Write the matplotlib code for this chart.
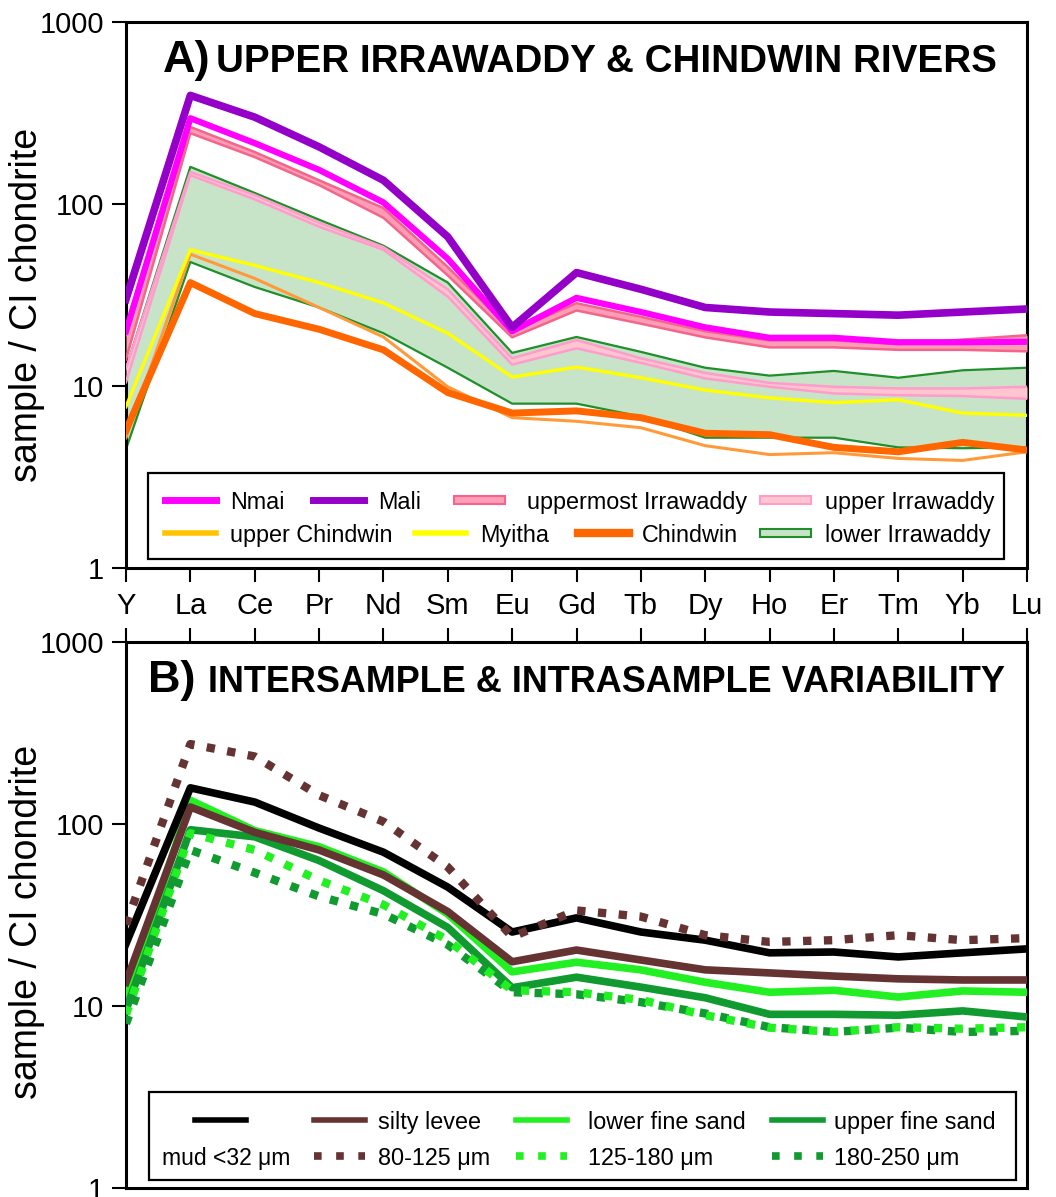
import numpy as np
import matplotlib.pyplot as plt
from matplotlib.lines import Line2D
from matplotlib.patches import Rectangle
from matplotlib.ticker import FixedLocator, NullLocator

plt.rcParams['font.family'] = ['Liberation Sans', 'DejaVu Sans']

W, H = 1056, 1197

elements = ['Y', 'La', 'Ce', 'Pr', 'Nd', 'Sm', 'Eu', 'Gd', 'Tb', 'Dy', 'Ho', 'Er', 'Tm', 'Yb', 'Lu']

# --- A) upper Irrawaddy & Chindwin rivers (sample / CI chondrite)
mali = [30, 395, 300, 206, 135, 66, 21, 42, 34, 27, 25.5, 25, 24.5, 25.5, 26.5]
nmai = [20, 296, 216, 154, 102, 50, 20, 30.5, 25.5, 21, 18.4, 18.4, 17.4, 17.4, 17.5]
uppermost_hi = [19, 265, 193, 135, 95, 45, 20, 28.5, 24, 20, 17.8, 17.8, 17, 18, 19]
uppermost_lo = [14, 245, 181, 127, 84, 40.5, 18.5, 26, 22, 18.5, 16.3, 16.3, 15.8, 15.8, 15.5]
upper_irr_hi = [12.5, 150, 112, 79, 58, 34, 14.2, 17.9, 14.2, 11.8, 10.4, 9.9, 9.7, 9.7, 9.9]
upper_irr_lo = [10.5, 144, 106, 75, 56, 31, 13.1, 16.1, 13.4, 11, 9.9, 9.1, 8.9, 8.8, 8.5]
lower_irr_hi = [12.5, 160, 115, 82, 59, 37, 15.2, 18.6, 15.4, 12.6, 11.4, 12.1, 11.1, 12.2, 12.6]
lower_irr_lo = [4.5, 48, 35, 27, 19.5, 12.6, 8.0, 8.0, 6.8, 5.2, 5.2, 5.2, 4.6, 4.55, 4.6]
myitha = [7.7, 56, 46, 37, 28.6, 19.5, 11.2, 12.7, 11.1, 9.5, 8.6, 8.1, 8.4, 7.1, 6.9]
upper_chindwin = [5.2, 53, 39, 27, 18.6, 9.9, 6.7, 6.4, 5.9, 4.7, 4.2, 4.3, 4.0, 3.9, 4.35]
chindwin = [5.7, 37, 25, 20.5, 15.8, 9.2, 7.1, 7.3, 6.7, 5.5, 5.4, 4.6, 4.35, 4.9, 4.45]

# --- B) intersample & intrasample variability
mud = [22, 158, 132, 95, 70, 45, 25.5, 30.5, 25.5, 23, 19.6, 19.8, 18.6, 19.6, 20.6]
silty_levee = [13.5, 124, 90, 72, 52.5, 33, 17.5, 20.3, 17.9, 15.8, 15.2, 14.6, 14.1, 13.9, 13.9]
lower_fine = [11, 135, 92, 75, 54.5, 32, 15.4, 17.4, 15.8, 13.5, 11.9, 12.2, 11.2, 12.1, 11.9]
upper_fine = [9.5, 93, 85, 63, 43, 27, 12.6, 14.4, 12.7, 11.1, 9.0, 9.0, 8.9, 9.4, 8.7]
s80_125 = [28, 275, 235, 144, 103, 58, 24, 33.5, 31, 24.5, 22.5, 23, 24.5, 23, 23.6]
s125_180 = [9, 89, 72, 49, 36, 23, 12.2, 11.9, 10.8, 8.9, 7.6, 7.2, 7.65, 7.5, 7.65]
s180_250 = [8, 72, 54, 40, 32, 21.7, 11.9, 11.6, 10.5, 9.1, 7.65, 7.2, 7.6, 7.2, 7.3]

C_NMAI = '#ff00ff'
C_MALI = '#9400c8'
C_UPM_EDGE, C_UPM_FILL = '#f3668c', '#ff9cb6'
C_UPI_EDGE, C_UPI_FILL = '#ff9ccc', '#ffc6d0'
C_LOW_EDGE, C_LOW_FILL = '#1e8f2a', '#c8e4c8'
C_MYITHA = '#ffff00'
C_UCHIN = '#ff9a3a'
C_UCHIN_KEY = '#ffc400'
C_CHIN = '#ff6600'
C_SILT = '#663333'
C_LFS = '#22f022'
C_UFS = '#109a30'

DOT = (0, (1, 1.5))


def fx(px):
    return px / W


def fy(py):
    return 1 - py / H


x = np.arange(len(elements))
fig = plt.figure(figsize=(W / 100, H / 100), dpi=100)
axA = fig.add_axes([fx(126), fy(568), (1027 - 126) / W, (568 - 22) / H])
axB = fig.add_axes([fx(126), fy(1188), (1027 - 126) / W, (1188 - 642) / H])

for ax in (axA, axB):
    ax.set_yscale('log')
    ax.set_ylim(1, 1000)
    ax.set_xlim(0, len(elements) - 1)
    ax.yaxis.set_major_locator(FixedLocator([1, 10, 100, 1000]))
    ax.yaxis.set_minor_locator(NullLocator())
    ax.set_yticklabels(['1', '10', '100', '1000'])
    ax.set_xticks(x)
    ax.tick_params(axis='both', direction='out', length=10, width=1.5,
                   labelsize=21, pad=6)
    for sp in ax.spines.values():
        sp.set_linewidth(2.2)

axA.set_xticklabels(elements)
axA.tick_params(axis='x', pad=7)
axB.xaxis.tick_top()
axB.tick_params(axis='x', labeltop=False)

# panel A: envelopes first, single rivers on top
axA.fill_between(x, lower_irr_lo, lower_irr_hi, color=C_LOW_FILL, lw=0, zorder=1)
axA.plot(x, lower_irr_hi, color=C_LOW_EDGE, lw=1.6, zorder=2)
axA.plot(x, lower_irr_lo, color=C_LOW_EDGE, lw=1.6, zorder=2)
axA.fill_between(x, upper_irr_lo, upper_irr_hi, color=C_UPI_FILL, lw=0, zorder=3)
axA.plot(x, upper_irr_hi, color=C_UPI_EDGE, lw=1.8, zorder=3)
axA.plot(x, upper_irr_lo, color=C_UPI_EDGE, lw=1.8, zorder=3)
axA.fill_between(x, uppermost_lo, uppermost_hi, color=C_UPM_FILL, lw=0, zorder=4)
axA.plot(x, uppermost_hi, color=C_UPM_EDGE, lw=1.8, zorder=4)
axA.plot(x, uppermost_lo, color=C_UPM_EDGE, lw=1.8, zorder=4)
axA.plot(x, upper_chindwin, color=C_UCHIN, lw=2.2, zorder=5)
axA.plot(x, chindwin, color=C_CHIN, lw=5, zorder=6)
axA.plot(x, myitha, color=C_MYITHA, lw=2.4, zorder=7)
axA.plot(x, nmai, color=C_NMAI, lw=4.5, zorder=8)
axA.plot(x, mali, color=C_MALI, lw=5.5, zorder=9)

# panel B
axB.plot(x, mud, color='black', lw=5.5, zorder=5)
axB.plot(x, silty_levee, color=C_SILT, lw=5.5, zorder=4)
axB.plot(x, lower_fine, color=C_LFS, lw=5.5, zorder=3)
axB.plot(x, upper_fine, color=C_UFS, lw=5.5, zorder=3)
axB.plot(x, s80_125, color=C_SILT, lw=6, ls=DOT, dash_capstyle='butt', zorder=6)
axB.plot(x, s180_250, color=C_UFS, lw=6, ls=DOT, dash_capstyle='butt', zorder=6)
axB.plot(x, s125_180, color=C_LFS, lw=6, ls=DOT, dash_capstyle='butt', zorder=6)

# titles
fig.text(fx(163), fy(72), 'A)', fontsize=32.5, fontweight='bold', va='baseline')
fig.text(fx(216), fy(72), 'UPPER IRRAWADDY & CHINDWIN RIVERS', fontsize=27.8,
         fontweight='bold', va='baseline')
fig.text(fx(148), fy(692), 'B)', fontsize=32.5, fontweight='bold', va='baseline')
fig.text(fx(208), fy(692), 'INTERSAMPLE & INTRASAMPLE VARIABILITY', fontsize=25.9,
         fontweight='bold', va='baseline')

for yc in (305, 922):
    fig.text(fx(27), fy(yc), 'sample / CI chondrite', fontsize=27, rotation=90,
             ha='center', va='center')


# hand-placed keys, in pixel positions of the figure
def key_box(x0, y0, x1, y1):
    fig.add_artist(Rectangle((fx(x0), fy(y1)), (x1 - x0) / W, (y1 - y0) / H,
                             transform=fig.transFigure, facecolor='white',
                             edgecolor='black', lw=1.6, zorder=10))


def key_line(x0, y, label, tx, **kw):
    fig.add_artist(Line2D([fx(x0), fx(x0 + 51)], [fy(y), fy(y)],
                          transform=fig.transFigure, zorder=11, **kw))
    fig.text(fx(tx), fy(y), label, fontsize=16.8, va='center_baseline', zorder=11)


def key_band(x0, y, label, tx, edge, face):
    fig.add_artist(Rectangle((fx(x0), fy(y + 4)), 51 / W, 8 / H,
                             transform=fig.transFigure, facecolor=face,
                             edgecolor=edge, lw=1.5, zorder=11))
    fig.text(fx(tx), fy(y), label, fontsize=16.8, va='center_baseline', zorder=11)


key_box(148, 473, 1004, 559)
key_line(165, 500, 'Nmai', 230, color=C_NMAI, lw=5)
key_line(313, 500, 'Mali', 378, color=C_MALI, lw=5)
key_band(454, 500, 'uppermost Irrawaddy', 527, C_UPM_EDGE, C_UPM_FILL)
key_band(760, 500, 'upper Irrawaddy', 825, C_UPI_EDGE, C_UPI_FILL)
key_line(165, 533, 'upper Chindwin', 230, color=C_UCHIN_KEY, lw=4)
key_line(415, 533, 'Myitha', 480, color=C_MYITHA, lw=4)
key_line(578, 533, 'Chindwin', 642, color=C_CHIN, lw=6)
key_band(760, 533, 'lower Irrawaddy', 825, C_LOW_EDGE, C_LOW_FILL)

key_box(149, 1092, 1016, 1180)
key_line(195, 1120, '', 250, color='black', lw=4)
fig.text(fx(162), fy(1156), 'mud <32 \u03bcm', fontsize=16.5, va='center_baseline', zorder=11)
key_line(314, 1120, 'silty levee', 378, color=C_SILT, lw=4)
key_line(516, 1120, 'lower fine sand', 588, color=C_LFS, lw=4)
key_line(772, 1120, 'upper fine sand', 834, color=C_UFS, lw=4)
key_line(314, 1156, '80-125 \u03bcm', 378, color=C_SILT, lw=5.5, ls=(0, (1, 1.9)),
         dash_capstyle='butt')
key_line(516, 1156, '125-180 \u03bcm', 588, color=C_LFS, lw=5.5, ls=(0, (1, 1.9)),
         dash_capstyle='butt')
key_line(772, 1156, '180-250 \u03bcm', 834, color=C_UFS, lw=5.5, ls=(0, (1, 1.9)),
         dash_capstyle='butt')

fig.savefig('out.png', dpi=100)
